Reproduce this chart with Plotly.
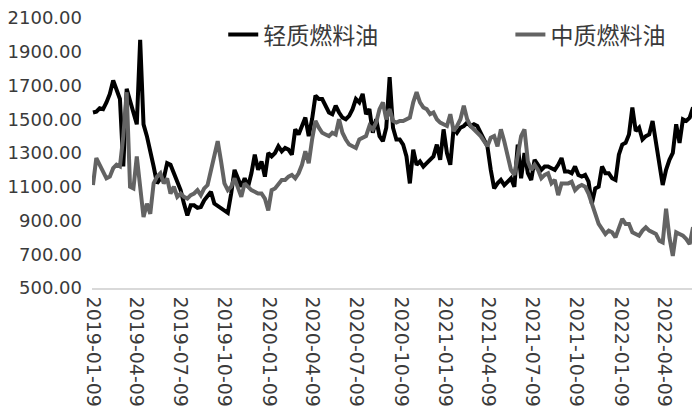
import pandas as pd
import plotly.graph_objects as go

start_date = "2019-01-09"
n_weeks = 179

light_fuel = [
    1540, 1545, 1565, 1560, 1600, 1650, 1730, 1680, 1620, 1220,
    1680, 1610, 1540, 1470, 1970, 1470, 1400, 1320, 1220, 1120,
    1150, 1150, 1240, 1230, 1180, 1130, 1080, 1000, 930, 990,
    990, 975, 980, 1020, 1050, 1070, 1000, 985, 975, 960,
    945, 1060, 1200, 1150, 1100, 1150, 1100, 1180, 1290, 1200,
    1250, 1160, 1300, 1280, 1300, 1340, 1310, 1330, 1320, 1290,
    1440, 1410, 1460, 1510, 1400, 1500, 1640, 1620, 1620, 1580,
    1540, 1530, 1580, 1540, 1510, 1500, 1520, 1560, 1620, 1600,
    1650, 1530, 1560, 1420, 1500, 1400, 1370, 1450, 1750, 1450,
    1380, 1380, 1350, 1280, 1120, 1320, 1230, 1250, 1220, 1240,
    1260, 1280, 1350, 1260, 1440, 1300, 1230, 1450, 1420, 1450,
    1460, 1480, 1460, 1470, 1460, 1420, 1370, 1340, 1200, 1090,
    1120, 1140, 1110, 1130, 1150, 1100, 1350, 1150, 1300, 1180,
    1140, 1260, 1230, 1200, 1220, 1220, 1210, 1200, 1230, 1270,
    1190, 1190, 1180, 1220, 1170, 1160, 1170, 1130, 1000, 1090,
    1100, 1220, 1180, 1180, 1150, 1140, 1290, 1350, 1360, 1410,
    1570, 1430, 1450, 1380, 1400, 1410, 1490, 1350, 1250, 1110,
    1200, 1260, 1300, 1470, 1360, 1500, 1490, 1510, 1570,
]

medium_fuel = [
    1110, 1270, 1230, 1190, 1150, 1160, 1210, 1230, 1220, 1400,
    1660, 1100, 1090, 1280, 1100, 920, 1000, 940, 1120, 1160,
    1180, 1120, 1150, 1060, 1100, 1040, 1060, 1040, 1030, 1050,
    1060, 1080, 1050, 1090, 1110, 1200, 1300, 1370, 1250, 1120,
    1080, 1100, 1150, 1100, 1040, 1120, 1100, 1080, 1070, 1060,
    1060, 1030, 960, 1080, 1090, 1120, 1140, 1140, 1160, 1170,
    1150, 1180, 1230, 1310, 1240, 1380, 1490, 1450, 1420, 1410,
    1400, 1420, 1410, 1500, 1420, 1380, 1350, 1340, 1330, 1380,
    1390, 1400, 1460, 1440, 1480, 1560, 1600, 1500, 1560, 1490,
    1480, 1490, 1490, 1500, 1510, 1600, 1660, 1600, 1570, 1560,
    1530, 1540, 1500, 1480, 1470, 1460, 1530, 1430, 1460, 1500,
    1580, 1500, 1460, 1440, 1420, 1400, 1370, 1340, 1390, 1400,
    1340, 1440, 1370, 1280, 1200, 1170, 1300, 1400, 1440, 1250,
    1200, 1230, 1200, 1150, 1170, 1180, 1120, 1140, 1050, 1120,
    1120, 1120, 1130, 1080, 1100, 1110, 1100, 1060, 1000, 940,
    880, 850, 820, 840, 830, 800, 860, 910, 880, 880,
    830, 820, 810, 840, 860, 840, 830, 820, 780, 770,
    970, 800, 690, 830, 820, 810, 790, 760, 860,
]

tick_dates = [
    "2019-01-09", "2019-04-09", "2019-07-09", "2019-10-09",
    "2020-01-09", "2020-04-09", "2020-07-09", "2020-10-09",
    "2021-01-09", "2021-04-09", "2021-07-09", "2021-10-09",
    "2022-01-09", "2022-04-09",
]
y_ticks = [500, 700, 900, 1100, 1300, 1500, 1700, 1900, 2100]

series_names = ["轻质燃料油", "中质燃料油"]

dates = pd.date_range(start_date, periods=n_weeks, freq="7D")

fig = go.Figure()
fig.add_trace(go.Scatter(x=dates, y=light_fuel, mode="lines", name=series_names[0],
                         line=dict(color="#000000", width=4), legend="legend"))
fig.add_trace(go.Scatter(x=dates, y=medium_fuel, mode="lines", name=series_names[1],
                         line=dict(color="#636363", width=4), legend="legend2"))

legend_font = dict(family="Noto Sans CJK SC", size=23, color="#3a3a3a")
fig.update_layout(
    width=692, height=410,
    margin=dict(l=84, r=6, t=9, b=130),
    paper_bgcolor="white", plot_bgcolor="white",
    font=dict(family="DejaVu Sans", color="#3a3a3a"),
    showlegend=True,
    legend=dict(x=0.218, y=0.935, xanchor="left", yanchor="middle",
                font=legend_font, bgcolor="rgba(0,0,0,0)"),
    legend2=dict(x=0.695, y=0.935, xanchor="left", yanchor="middle",
                 font=legend_font, bgcolor="rgba(0,0,0,0)"),
)
fig.update_xaxes(
    range=[dates[0] - pd.Timedelta(days=2), dates[-1] + pd.Timedelta(days=2)],
    tickmode="array", tickvals=pd.to_datetime(tick_dates), ticktext=tick_dates,
    tickangle=90, tickfont=dict(size=19, color="#3a3a3a"), ticklabelstandoff=3,
    ticklabeloverflow="allow",
    showgrid=False, showline=True, linecolor="#d9d9d9", linewidth=1.5,
    ticks="", zeroline=False, automargin=False,
)
fig.update_yaxes(
    range=[500, 2100], tickmode="array", tickvals=y_ticks,
    ticktext=[f"{v:.2f}" for v in y_ticks],
    tickfont=dict(size=18, color="#3a3a3a"), ticklabelstandoff=9,
    ticklabeloverflow="allow",
    showgrid=False, showline=False, zeroline=False, ticks="", automargin=False,
)

fig.write_html("out.html")
